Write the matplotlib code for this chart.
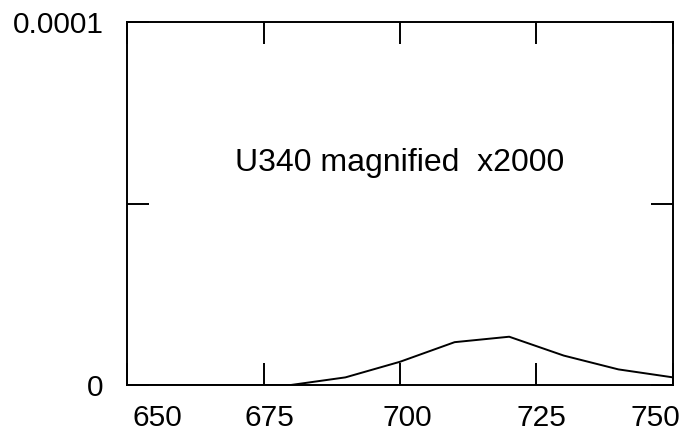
import matplotlib
matplotlib.use("Agg")
import matplotlib.pyplot as plt
from matplotlib.transforms import ScaledTranslation

# wavelength (nm) and magnified U340 transmission
wl = [650, 660, 670, 680, 690, 700, 710, 720, 730, 740, 750]
trans = [0, 0, 0, 0, 2.1e-6, 6.4e-6, 1.18e-5, 1.33e-5, 8.1e-6, 4.3e-6, 2.1e-6]

xticks = [650, 675, 700, 725, 750]
yticks = [0, 5e-5, 1e-4]
ylabels = ["0", "", "0.0001"]
# the reference's x labels sit a little off their ticks (pixels)
xlab_shift = [30, 6, 7, 5, -18]

plt.rcParams["font.family"] = ["Liberation Sans", "DejaVu Sans"]
FS = 21.5
LW = 1.4

fig = plt.figure(figsize=(6.99, 4.34), dpi=100)
ax = fig.add_axes([0.1817, 0.1129, 0.9628 - 0.1817, 0.9493 - 0.1129])
ax.plot(wl, trans, color="black", lw=LW, clip_on=True)

ax.set_xlim(650, 750)
ax.set_ylim(0, 1e-4)
ax.set_xticks(xticks)
ax.set_xticklabels([str(t) for t in xticks])
ax.set_yticks(yticks)
ax.set_yticklabels(ylabels)
ax.minorticks_off()
ax.tick_params(direction="in", length=16, width=LW, top=True, right=True,
               labelsize=FS, color="black")
ax.tick_params(axis="x", pad=14)
ax.tick_params(axis="y", pad=17)
for sp in ax.spines.values():
    sp.set_linewidth(LW)

for lab, dx in zip(ax.get_xticklabels(), xlab_shift):
    lab.set_transform(lab.get_transform() + ScaledTranslation(dx / 100, 0, fig.dpi_scale_trans))

ax.text(700, 5.9e-5, "U340 magnified  x2000", ha="center", va="baseline",
        fontsize=23)

fig.savefig("out.png", dpi=100)
